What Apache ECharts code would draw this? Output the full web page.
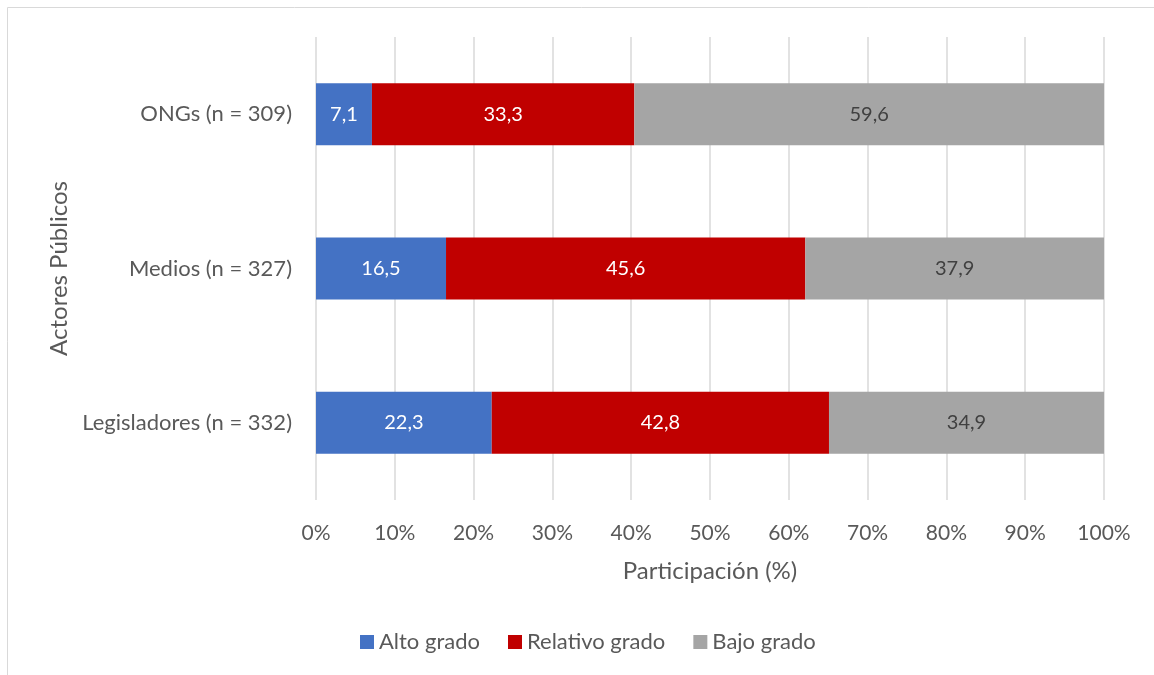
<!DOCTYPE html>
<html>
<head>
<meta charset="utf-8">
<script src="https://cdn.jsdelivr.net/npm/echarts@6/dist/echarts.min.js"></script>
<style>
  html, body { margin: 0; padding: 0; background: #fff; }
  #main { width: 1154px; height: 675px; }
</style>
</head>
<body>
<div id="main"></div>
<script>
// categories from bottom to top
var actores = ['Legisladores (n = 332)', 'Medios (n = 327)', 'ONGs (n = 309)'];
var altoGrado = [22.3, 16.5, 7.1];
var relativoGrado = [42.8, 45.6, 33.3];
var bajoGrado = [34.9, 37.9, 59.6];
var xTicks = [0, 10, 20, 30, 40, 50, 60, 70, 80, 90, 100];

var fontFam = 'Lato, "Open Sans", sans-serif';
var txtColor = '#595959';

var myChart = echarts.init(document.getElementById('main'));

function fmt(p) {
    return p.value.toFixed(1).replace('.', ',');
}

function mkSeries(name, data, color, labelColor) {
    return {
        name: name,
        type: 'bar',
        stack: 'total',
        data: data,
        barWidth: 62,
        itemStyle: { color: color },
        label: {
            show: true,
            position: 'inside',
            formatter: fmt,
            color: labelColor,
            fontSize: 20,
            fontFamily: fontFam
        },
        emphasis: { disabled: true }
    };
}

var option = {
    animation: false,
    textStyle: { fontFamily: fontFam },
    graphic: [{
        type: 'rect',
        shape: { x: 7.5, y: 7.5, width: 1200, height: 700 },
        style: { fill: 'none', stroke: '#d9d9d9', lineWidth: 1 },
        silent: true
    }],
    grid: { left: 316, right: 50, top: 37, bottom: 175 },
    legend: {
        bottom: 17,
        left: 355,
        itemWidth: 14,
        itemHeight: 14,
        itemGap: 28,
        icon: 'rect',
        textStyle: { color: txtColor, fontSize: 22, fontFamily: fontFam },
        data: ['Alto grado', 'Relativo grado', 'Bajo grado']
    },
    xAxis: {
        type: 'value',
        min: 0,
        max: 100,
        interval: 10,
        name: 'Participación (%)',
        nameLocation: 'middle',
        nameGap: 59,
        nameTextStyle: { color: txtColor, fontSize: 24, fontFamily: fontFam },
        axisLine: { show: false },
        axisTick: { show: false },
        axisLabel: {
            margin: 23,
            color: txtColor,
            fontSize: 21,
            fontFamily: fontFam,
            formatter: function (v) { return xTicks.indexOf(v) >= 0 ? v + '%' : ''; }
        },
        splitLine: { show: true, lineStyle: { color: '#d9d9d9', width: 1.5 } }
    },
    yAxis: {
        type: 'category',
        data: actores,
        name: 'Actores Públicos',
        nameLocation: 'middle',
        nameRotate: 90,
        nameGap: 242,
        nameTextStyle: { color: txtColor, fontSize: 24, fontFamily: fontFam },
        axisLine: { show: false },
        axisTick: { show: false },
        axisLabel: { margin: 24, color: txtColor, fontSize: 22, fontFamily: fontFam }
    },
    series: [
        mkSeries('Alto grado', altoGrado, '#4472C4', '#ffffff'),
        mkSeries('Relativo grado', relativoGrado, '#C00000', '#ffffff'),
        mkSeries('Bajo grado', bajoGrado, '#A5A5A5', '#404040')
    ]
};

myChart.setOption(option);
</script>
</body>
</html>
